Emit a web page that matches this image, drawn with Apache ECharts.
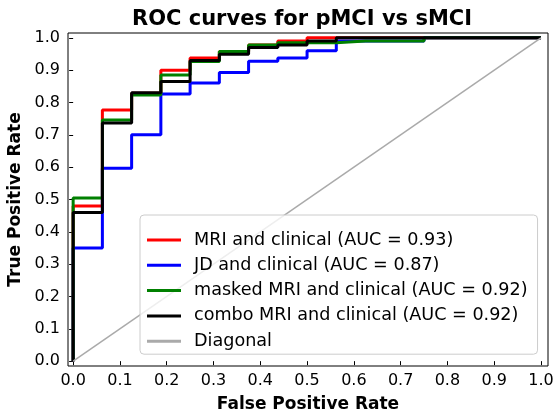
<!DOCTYPE html>
<html>
<head>
<meta charset="utf-8">
<script src="https://cdn.jsdelivr.net/npm/echarts@6/dist/echarts.min.js"></script>
<style>
  html, body { margin: 0; padding: 0; background: #fff; }
  #chart { width: 555px; height: 412px; }
</style>
</head>
<body>
<div id="chart"></div>
<script>
// false positive rate where each curve steps up (16 sMCI subjects)
const fprSteps = [0, 0.0625, 0.125, 0.1875, 0.25, 0.3125, 0.375, 0.4375, 0.5, 0.5625, 0.625, 0.6875, 0.75];

// true positive rate reached at each step
const tprMri    = [0.48, 0.777, 0.829, 0.90, 0.938, 0.958, 0.978, 0.99, 1, 1, 1, 1, 1];
const tprJd     = [0.35, 0.597, 0.70, 0.826, 0.86, 0.893, 0.928, 0.938, 0.96, 0.99, 0.99, 0.99, 1];
const tprMasked = [0.505, 0.746, 0.823, 0.885, 0.927, 0.958, 0.978, 0.985, 0.985, 0.99, 0.99, 0.99, 1];
const tprCombo  = [0.46, 0.737, 0.83, 0.865, 0.93, 0.949, 0.97, 0.978, 0.99, 1, 1, 1, 1];

const seriesNames = [
  'MRI and clinical (AUC = 0.93)',
  'JD and clinical (AUC = 0.87)',
  'masked MRI and clinical (AUC = 0.92)',
  'combo MRI and clinical (AUC = 0.92)',
  'Diagonal'
];
const seriesColors = ['#ff0000', '#0000ff', '#008000', '#000000', '#aaaaaa'];

const tickValues = [0, 0.1, 0.2, 0.3, 0.4, 0.5, 0.6, 0.7, 0.8, 0.9, 1.0];

const FONT = 'DejaVu Sans';

function rocPoints(tpr) {
  let pts = [[0, 0]];
  fprSteps.forEach((x, i) => pts.push([x, tpr[i]]));
  pts.push([1, 1]);
  return pts;
}

function rocSeries(i, tpr) {
  return {
    name: seriesNames[i],
    type: 'line',
    step: 'end',
    data: rocPoints(tpr),
    symbol: 'none',
    lineStyle: { color: seriesColors[i], width: 3 },
    itemStyle: { color: seriesColors[i] }
  };
}

const myChart = echarts.init(document.getElementById('chart'));
myChart.setOption({
  animation: false,
  textStyle: { fontFamily: FONT },
  title: {
    text: 'ROC curves for pMCI vs sMCI',
    left: 297,
    top: 4,
    textAlign: 'center',
    textStyle: { fontFamily: FONT, fontSize: 21, fontWeight: 'bold', color: '#000' }
  },
  grid: {
    left: 68, right: 7, top: 33, bottom: 46,
    outerBoundsMode: 'none',
    show: true, borderColor: '#000', borderWidth: 1
  },
  legend: {
    orient: 'vertical',
    left: 140,
    top: 215,
    padding: [16, 10, 4, 7],
    icon: 'rect',
    itemWidth: 34,
    itemHeight: 3,
    itemGap: 7.3,
    backgroundColor: 'rgba(255,255,255,0.8)',
    borderColor: '#cccccc',
    borderWidth: 1,
    borderRadius: 4,
    textStyle: { fontFamily: FONT, fontSize: 17.6, color: '#000', lineHeight: 18, padding: [0, 0, 0, 8] },
    data: seriesNames
  },
  xAxis: {
    type: 'value',
    min: -0.011,
    max: 1.015,
    name: 'False Positive Rate',
    nameLocation: 'middle',
    nameGap: 30,
    nameTextStyle: { fontFamily: FONT, fontSize: 17, fontWeight: 'bold', color: '#000' },
    axisLine: { show: false },
    splitLine: { show: false },
    axisTick: { show: true, length: 4, lineStyle: { color: '#000' }, customValues: tickValues },
    axisLabel: {
      customValues: tickValues,
      formatter: v => v.toFixed(1),
      fontFamily: FONT, fontSize: 16, color: '#000', margin: 7
    }
  },
  yAxis: {
    type: 'value',
    min: -0.015,
    max: 1.015,
    name: 'True Positive Rate',
    nameLocation: 'middle',
    nameGap: 41,
    nameTextStyle: { fontFamily: FONT, fontSize: 17, fontWeight: 'bold', color: '#000' },
    axisLine: { show: false },
    splitLine: { show: false },
    axisTick: { show: true, length: 4, lineStyle: { color: '#000' }, customValues: tickValues },
    axisLabel: {
      customValues: tickValues,
      formatter: v => v.toFixed(1),
      fontFamily: FONT, fontSize: 16, color: '#000', margin: 8
    }
  },
  series: [
    rocSeries(0, tprMri),
    rocSeries(1, tprJd),
    rocSeries(2, tprMasked),
    rocSeries(3, tprCombo),
    {
      name: seriesNames[4],
      type: 'line',
      data: [[0, 0], [1, 1]],
      symbol: 'none',
      lineStyle: { color: seriesColors[4], width: 1.5 },
      itemStyle: { color: seriesColors[4] }
    }
  ]
});
</script>
</body>
</html>
